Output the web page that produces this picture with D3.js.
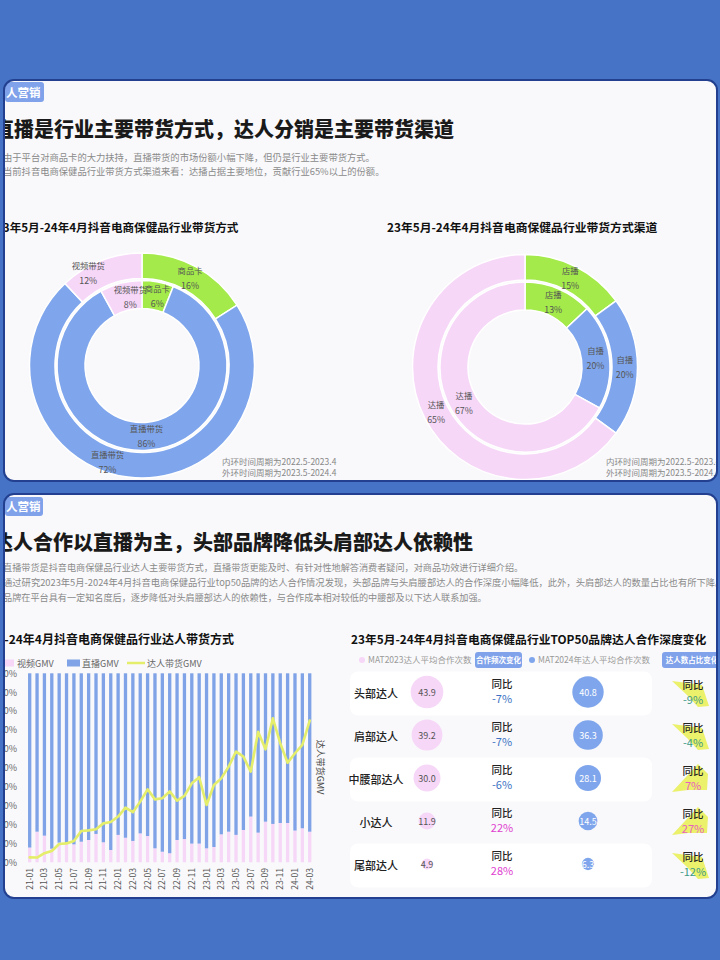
<!DOCTYPE html>
<html><head><meta charset="utf-8">
<script src="https://cdn.jsdelivr.net/npm/d3@7"></script>
<style>
body{margin:0;background:#4673c6;}
svg{display:block;font-family:"Noto Sans CJK SC","Noto Sans",sans-serif;}
</style>
</head><body>
<svg id="c" width="720" height="960"></svg>
<script>
// ---------------- DATA ----------------
const mixCategories = ["商品卡", "直播带货", "视频带货"];
const mixOuter = [16, 72, 12];   // 2023.5-2024.4
const mixInner = [6, 86, 8];     // 2022.5-2023.4
const channelCategories = ["店播", "自播", "达播"];
const channelOuter = [15, 20, 65];
const channelInner = [13, 20, 67];

const months = ["21-01","21-02","21-03","21-04","21-05","21-06","21-07","21-08","21-09","21-10","21-11","21-12",
  "22-01","22-02","22-03","22-04","22-05","22-06","22-07","22-08","22-09","22-10","22-11","22-12",
  "23-01","23-02","23-03","23-04","23-05","23-06","23-07","23-08","23-09","23-10","23-11","23-12",
  "24-01","24-02","24-03"];
const videoGMV = [7.8,16.2,14.1,7.2,10.4,10.0,9.5,10.9,11.8,15.0,10.6,6.5,
  14.5,13.0,11.3,15.3,13.9,7.4,5.6,4.8,11.8,12.3,9.9,9.9,
  7.4,8.1,14.8,16.2,14.5,17.1,24.2,15.7,21.5,20.3,20.8,20.8,
  16.8,18.0,16.2];
const liveGMV = [92.2,83.8,85.9,92.8,89.6,90.0,90.5,89.1,88.2,85.0,89.4,93.5,
  85.5,87.0,88.7,84.7,86.1,92.6,94.4,95.2,88.2,87.7,90.1,90.1,
  92.6,91.9,85.2,83.8,85.5,82.9,75.8,84.3,78.5,79.7,79.2,79.2,
  83.2,82.0,83.8];
const talentGMV = [2.6,2.5,4.8,6.0,9.7,10.0,11.3,16.6,16.9,17.5,20.6,21.3,
  24.2,28.9,26.5,32.1,38.6,33.3,33.9,37.5,32.6,35.1,41.8,45.0,
  30.3,40.9,44.4,50.6,58.6,55.9,48.0,69.1,59.8,76.2,63.0,52.7,
  57.7,62.1,75.0];
const yTicks = [0,10,20,30,40,50,60,70,80,90,100];
const tickMonths = ["21-01","21-03","21-05","21-07","21-09","21-11","22-01","22-03","22-05","22-07","22-09","22-11",
  "23-01","23-03","23-05","23-07","23-09","23-11","24-01","24-03"];

const tiers = ["头部达人", "肩部达人", "中腰部达人", "小达人", "尾部达人"];
const avg2023 = [43.9, 39.2, 30.0, 11.9, 4.9];
const avg2024 = [40.8, 36.3, 28.1, 14.5, 6.3];
const freqYoY = [-7, -7, -6, 22, 28];
const shareYoY = [-9, -4, 7, 27, -12];

// ---------------- STYLE ----------------
const C = {green:"#a3ea4a", blue:"#7fa6ec", pink:"#f6d7f8", bar:"#7fa3e6", line:"#e5ee6a",
  tag:"#7fa2ea", panel:"#f9f9fb", border:"#22408f", title:"#1a1a1a", sub:"#8a8a8a"};
// label nudges (style) for the left donut, keyed "ring|category"
const labelNudge = {"outer|视频带货":[-17,0], "outer|直播带货":[-22,-2], "inner|视频带货":[6,0], "inner|商品卡":[2,0]};

const svg = d3.select("#c");
const defs = svg.append("defs");
function panel(id, y, h){
  defs.append("clipPath").attr("id", id).append("rect")
    .attr("x",4).attr("y",y).attr("width",713).attr("height",h).attr("rx",10);
  svg.append("rect").attr("x",4).attr("y",y).attr("width",713).attr("height",h).attr("rx",10).attr("fill",C.panel);
  return svg.append("g").attr("clip-path",`url(#${id})`);
}
function border(y,h){
  svg.append("rect").attr("x",4).attr("y",y).attr("width",713).attr("height",h).attr("rx",10)
    .attr("fill","none").attr("stroke",C.border).attr("stroke-width",2);
}
function txt(g, x, y, s, size, fill, weight, anchor){
  return g.append("text").attr("x",x).attr("y",y).text(s).attr("font-size",size)
    .attr("fill",fill).attr("font-weight",weight||400).attr("text-anchor",anchor||"start");
}

// ================= TOP PANEL =================
const gT = panel("clipT", 80, 401);
gT.append("rect").attr("x",5).attr("y",82).attr("width",39).attr("height",20).attr("rx",3).attr("fill",C.tag);
txt(gT, 6, 97, "人营销", 11.5, "#fff", 700);
txt(gT, -6, 137, "直播是行业主要带货方式，达人分销是主要带货渠道", 20, C.title, 900);
txt(gT, 3, 160.5, "由于平台对商品卡的大力扶持，直播带货的市场份额小幅下降，但仍是行业主要带货方式。", 9.3, C.sub);
txt(gT, 3, 175, "当前抖音电商保健品行业带货方式渠道来看：达播占据主要地位，贡献行业65%以上的份额。", 9.3, C.sub);
txt(gT, -4, 232, "23年5月-24年4月抖音电商保健品行业带货方式", 11.6, "#111", 700);
txt(gT, 387, 232, "23年5月-24年4月抖音电商保健品行业带货方式渠道", 11.8, "#111", 700);

function donut(g, cx, cy, cats, outer, inner, colors, nudge){
  const pie = d3.pie().sort(null).value(d=>d.v);
  const rings = [{name:"outer", vals:outer, r0:87, r1:112.5},{name:"inner", vals:inner, r0:57, r1:85}];
  const gg = g.append("g").attr("transform",`translate(${cx},${cy})`);
  rings.forEach(ring=>{
    const arcs = pie(cats.map((c,i)=>({c, v:ring.vals[i], i})));
    const arc = d3.arc().innerRadius(ring.r0).outerRadius(ring.r1);
    gg.append("g").selectAll("path").data(arcs).join("path").attr("d",arc)
      .attr("fill",d=>colors[d.data.i]).attr("stroke","#fff").attr("stroke-width",1.5);
    const lab = gg.append("g").selectAll("g").data(arcs).join("g")
      .attr("transform",d=>{
        const [px,py] = arc.centroid(d);
        const n = (nudge||{})[ring.name+"|"+d.data.c] || [0,0];
        return `translate(${px+n[0]},${py+n[1]})`;
      });
    lab.append("text").attr("y",-4).attr("text-anchor","middle").attr("font-size",8.3).attr("fill","#555").text(d=>d.data.c);
    lab.append("text").attr("y",11).attr("text-anchor","middle").attr("font-size",8.8).attr("fill","#555").text(d=>d.data.v+"%");
  });
}
donut(gT, 142, 365.5, mixCategories, mixOuter, mixInner, [C.green, C.blue, C.pink], labelNudge);
donut(gT, 525, 367, channelCategories, channelOuter, channelInner, [C.green, C.blue, C.pink]);

[[222],[606]].forEach(([x])=>{
  txt(gT, x, 465, "内环时间周期为2022.5-2023.4", 8.5, "#888");
  txt(gT, x, 475.5, "外环时间周期为2023.5-2024.4", 8.5, "#888");
});
border(80, 401);

// ================= BOTTOM PANEL =================
const gB = panel("clipB", 494, 404);
gB.append("rect").attr("x",5).attr("y",497).attr("width",38).attr("height",19).attr("rx",3).attr("fill",C.tag);
txt(gB, 6, 511, "人营销", 11.5, "#fff", 700);
txt(gB, -7, 550, "达人合作以直播为主，头部品牌降低头肩部达人依赖性", 20, C.title, 900);
txt(gB, 3, 571, "直播带货是抖音电商保健品行业达人主要带货方式，直播带货更能及时、有针对性地解答消费者疑问，对商品功效进行详细介绍。", 9.15, C.sub);
txt(gB, 3, 586, "通过研究2023年5月-2024年4月抖音电商保健品行业top50品牌的达人合作情况发现，头部品牌与头肩腰部达人的合作深度小幅降低，此外，头肩部达人的数量占比也有所下降。", 9.3, C.sub);
txt(gB, 3, 601, "品牌在平台具有一定知名度后，逐步降低对头肩腰部达人的依赖性，与合作成本相对较低的中腰部及以下达人联系加强。", 9.15, C.sub);

// ---- bar chart ----
txt(gB, -41, 644, "23年5月-24年4月抖音电商保健品行业达人带货方式", 12, "#111", 700);
gB.append("rect").attr("x",4).attr("y",659.5).attr("width",10).attr("height",7).attr("fill",C.pink);
txt(gB, 17, 666.5, "视频GMV", 9, "#666");
gB.append("rect").attr("x",67).attr("y",659.5).attr("width",13).attr("height",7).attr("fill",C.bar);
txt(gB, 82, 666.5, "直播GMV", 9, "#666");
gB.append("line").attr("x1",127).attr("x2",145).attr("y1",663).attr("y2",663).attr("stroke",C.line).attr("stroke-width",2.5);
txt(gB, 147, 666.5, "达人带货GMV", 9, "#666");

const x = d3.scaleBand().domain(months).range([26, 313.4]).paddingInner(0.55).paddingOuter(0.275);
const y = d3.scaleLinear().domain([0,100]).range([862.3, 673.3]);
const y2 = d3.scaleLinear().domain([0,100]).range([862.3, 673.3]);

const stackData = months.map((m,i)=>({m, video:videoGMV[i], live:liveGMV[i]}));
const series = d3.stack().keys(["video","live"])(stackData);
const barColors = {video:C.pink, live:C.bar};
gB.append("g").selectAll("g").data(series).join("g").attr("fill",s=>barColors[s.key])
  .selectAll("rect").data(s=>s).join("rect")
  .attr("x",d=>x(d.data.m)).attr("width",x.bandwidth())
  .attr("y",d=>y(d[1])).attr("height",d=>y(d[0])-y(d[1]));

const yAxis = d3.axisLeft(y).tickValues(yTicks).tickFormat(d=>d+"%").tickSize(0).tickPadding(0);
const ya = gB.append("g").attr("transform","translate(17,0)").call(yAxis);
ya.select(".domain").remove();
ya.selectAll("text").attr("font-size",9).attr("fill","#666").attr("font-family","Noto Sans CJK SC");

const xAxis = d3.axisBottom(x).tickValues(tickMonths).tickSize(0).tickPadding(0);
const xa = gB.append("g").attr("transform","translate(0,868)").call(xAxis);
xa.select(".domain").remove();
xa.selectAll("text").attr("font-size",8.5).attr("fill","#555").attr("font-family","Noto Sans CJK SC")
  .attr("transform","rotate(-90)").attr("text-anchor","end").attr("x",0).attr("y",0).attr("dy","0.35em");

const line = d3.line().x((d,i)=>x(months[i])+x.bandwidth()/2).y(d=>y2(d));
gB.append("path").datum(talentGMV).attr("d",line).attr("fill","none")
  .attr("stroke",C.line).attr("stroke-width",2.6).attr("stroke-linejoin","round").attr("stroke-linecap","round");
gB.append("text").attr("transform","translate(317,767) rotate(90)").attr("text-anchor","middle")
  .attr("font-size",9).attr("fill","#444").text("达人带货GMV");

// ---- tier table ----
txt(gB, 351, 644, "23年5月-24年4月抖音电商保健品行业TOP50品牌达人合作深度变化", 11.8, "#111", 700);
gB.append("circle").attr("cx",362).attr("cy",660).attr("r",3).attr("fill",C.pink);
txt(gB, 368, 663, "MAT2023达人平均合作次数", 8.5, "#999");
gB.append("rect").attr("x",475).attr("y",652).attr("width",47).attr("height",16).attr("rx",3).attr("fill",C.tag);
txt(gB, 498.5, 663, "合作频次变化", 7.5, "#fff", 700, "middle");
gB.append("circle").attr("cx",532).attr("cy",660).attr("r",3).attr("fill",C.blue);
txt(gB, 538, 663, "MAT2024年达人平均合作次数", 8.5, "#999");
gB.append("rect").attr("x",662).attr("y",652).attr("width",62).attr("height",16).attr("rx",3).attr("fill",C.tag);
txt(gB, 692, 663, "达人数占比变化", 7.5, "#fff", 700, "middle");

const row = d3.scalePoint().domain(tiers).range([693, 865]);
const r = d3.scaleSqrt().domain([0, 43.9]).range([0, 16.3]);
const fmtPct = v => v + "%";
const tg = gB.append("g").selectAll("g").data(tiers).join("g").attr("transform",t=>`translate(0,${row(t)})`);
tg.filter((t,i)=>i%2===0).append("rect").attr("x",350).attr("y",-21.5).attr("width",302).attr("height",44).attr("rx",8).attr("fill","#fff");
tg.append("text").attr("x",376).attr("y",5).attr("text-anchor","middle").attr("font-size",11).attr("font-weight",500).attr("fill","#222").text(t=>t);
tg.append("circle").attr("cx",427).attr("cy",-1).attr("r",(t,i)=>r(avg2023[i])).attr("fill",C.pink);
tg.append("text").attr("x",427).attr("y",2.5).attr("text-anchor","middle").attr("font-size",9).attr("fill","#555").text((t,i)=>avg2023[i].toFixed(1));
tg.append("circle").attr("cx",588).attr("cy",-1).attr("r",(t,i)=>r(avg2024[i])).attr("fill",C.blue);
tg.append("text").attr("x",588).attr("y",2.5).attr("text-anchor","middle").attr("font-size",9).attr("fill","#fff").text((t,i)=>avg2024[i].toFixed(1));
tg.append("text").attr("x",502).attr("y",-5).attr("text-anchor","middle").attr("font-size",10.5).attr("font-weight",500).attr("fill","#222").text("同比");
tg.append("text").attr("x",502).attr("y",9.5).attr("text-anchor","middle").attr("font-size",11)
  .attr("fill",(t,i)=>freqYoY[i]<0?"#3b72c4":"#e040d0").text((t,i)=>fmtPct(freqYoY[i]));
const negShape = [[-20,-12],[10,-8],[17,13],[6,14],[-5,2]];
const posShape = [[-20,13],[6,-15],[16,-5],[15,11],[-4,11]];
tg.append("polygon").attr("transform","translate(692,0)")
  .attr("points",(t,i)=>(shareYoY[i]<0?negShape:posShape).map(p=>p.join(",")).join(" "))
  .attr("fill","#e9f05a").attr("opacity",0.9);
tg.append("text").attr("x",693).attr("y",-4).attr("text-anchor","middle").attr("font-size",10.5).attr("font-weight",500).attr("fill","#222").text("同比");
tg.append("text").attr("x",693).attr("y",10.5).attr("text-anchor","middle").attr("font-size",11)
  .attr("fill",(t,i)=>shareYoY[i]<0?"#3d9a86":"#e860c0").text((t,i)=>fmtPct(shareYoY[i]));
border(494, 404);
</script>
</body></html>
